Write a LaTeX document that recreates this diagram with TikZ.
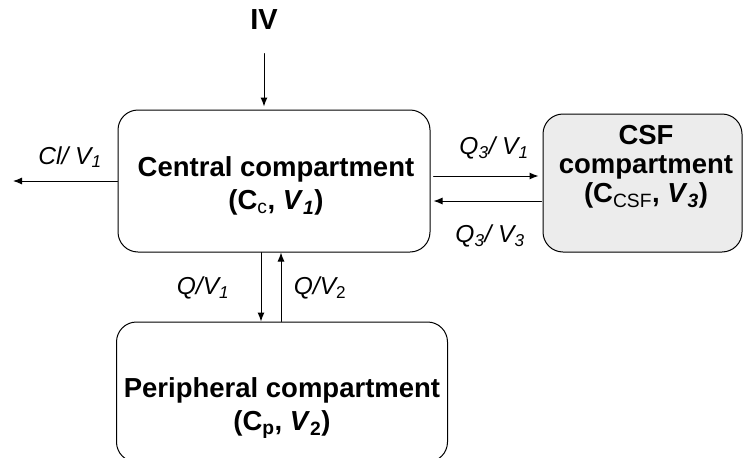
\documentclass[tikz,border=0pt]{standalone}
\usepackage{fontspec}
\setmainfont{Liberation Sans}
\usetikzlibrary{arrows.meta}
\tikzset{
  box/.style={draw, line width=1pt, rounded corners=20pt, inner sep=0pt},
  boxtxt/.style={font=\fontsize{27.5}{33}\selectfont\bfseries, align=center},
  rate/.style={font=\fontsize{24.5}{28}\selectfont\itshape},
  flow/.style={line width=1pt, -{Latex[length=9pt,width=7pt]}},
}
\newcommand{\sbs}[1]{\textsubscript{#1}}

\begin{document}
\begin{tikzpicture}[x=1pt,y=-1pt,line cap=round,line join=round]
\clip (0,0) rectangle (745,458);

% compartments
\node[box, minimum width=312pt, minimum height=142pt] (central) at (274,181) {};
\node[box, fill=gray!15, minimum width=199pt, minimum height=138pt] (csf) at (642.5,183) {};
\node[box, minimum width=331pt, minimum height=140pt] (periph) at (282,392) {};

\node[boxtxt] (centraltxt) at (276,186) {Central compartment\\(C\sbs{\mdseries c}, \textit{V}\sbs{\itshape 1})};
\node[boxtxt, font=\fontsize{27.5}{29}\selectfont\bfseries] (csftxt) at (646,167) {CSF\\compartment\\(C\sbs{\mdseries CSF}, \textit{V}\sbs{\itshape 3})};
\node[boxtxt] (periphtxt) at (282,408) {Peripheral compartment\\(C\sbs{p}, \textit{V}\sbs{2})};

% dosing
\node[font=\fontsize{29}{32}\selectfont\bfseries] (iv) at (264,20) {IV};
\draw[flow, shorten >=3pt] ([yshift=-20pt]iv.south) -- (iv.south |- central.north);

% elimination
\coordinate (clout) at (13,181);
\draw[flow] (central.west |- clout) -- (clout);
\node[rate] (cl) at (70,157) {Cl/ V\sbs{1}};

% central <-> CSF
\draw[flow, shorten <=3pt, shorten >=4pt] (central.east |- 0,176) -- (csf.west |- 0,176);
\draw[flow, shorten <=1pt, shorten >=3pt] (csf.west |- 0,201) -- (central.east |- 0,201);
\node[rate] (q3in) at (494,148) {Q\sbs{3}/ V\sbs{1}};
\node[rate] (q3out) at (490,236) {Q\sbs{3}/ V\sbs{3}};

% central <-> peripheral
\draw[flow] (central.south -| 261,0) -- (periph.north -| 261,0);
\draw[flow] (periph.north -| 281,0) -- (central.south -| 281,0);
\node[rate] (qin) at (203,288) {Q/V\sbs{1}};
\node[rate] (qout) at (320,288) {Q/V\sbs{\upshape 2}};
\end{tikzpicture}
\end{document}
